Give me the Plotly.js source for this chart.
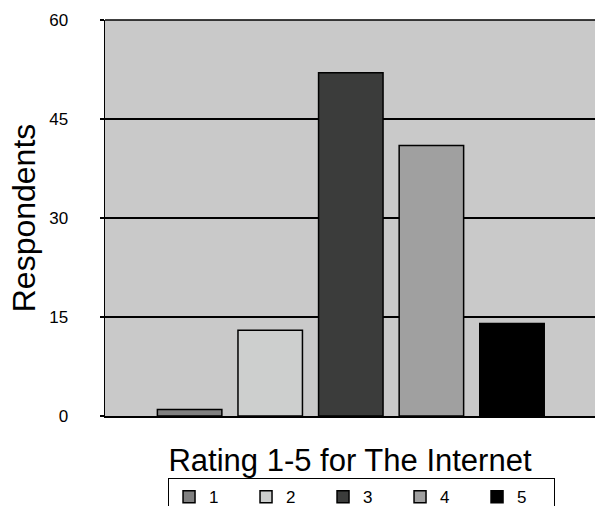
<!DOCTYPE html>
<html>
<head>
<meta charset="utf-8">
<script src="https://cdn.plot.ly/plotly-3.0.1.min.js"></script>
<style>html,body{margin:0;padding:0;background:#fff;}</style>
</head>
<body>
<div id="chart" style="width:595px;height:506px;"></div>
<script>
const categories = ["1", "2", "3", "4", "5"];
const positions = [1, 2, 3, 4, 5];
const respondents = [1, 13, 52, 41, 14];
const barColors = ["#808080", "#cdcfce", "#3b3c3b", "#a0a0a0", "#000000"];
const yTicks = [0, 15, 30, 45, 60];

const traces = categories.map((c, i) => ({
  type: "bar",
  name: c,
  x: [positions[i]],
  y: [respondents[i]],
  width: 0.8,
  marker: { color: barColors[i], line: { color: "#000", width: 1.5 } },
  hoverinfo: "y"
}));

const layout = {
  width: 595,
  height: 506,
  margin: { l: 105, r: 0, t: 20, b: 90, autoexpand: false },
  paper_bgcolor: "#ffffff",
  plot_bgcolor: "#c9c9c9",
  font: { family: "Liberation Sans, Arial, sans-serif", color: "#000" },
  barmode: "overlay",
  showlegend: true,
  xaxis: {
    range: [-0.05, 6.03],
    showticklabels: false,
    showgrid: false,
    zeroline: false,
    ticks: "",
    showline: true,
    linecolor: "#000",
    linewidth: 1.5,
    mirror: false,
    fixedrange: true,
    automargin: false,
    title: { text: "Rating 1-5 for The Internet", font: { size: 31, color: "#000" }, standoff: 34 }
  },
  yaxis: {
    range: [0, 60],
    tickvals: yTicks,
    ticktext: yTicks.map(String),
    ticks: "outside",
    ticklen: 4,
    tickcolor: "#000",
    tickwidth: 1.5,
    ticklabelstandoff: 28,
    tickfont: { size: 17, color: "#000" },
    showgrid: true,
    gridcolor: "#000",
    gridwidth: 1.2,
    zeroline: false,
    showline: true,
    linecolor: "#000",
    linewidth: 1.5,
    fixedrange: true,
    automargin: false,
    title: { text: "Respondents", font: { size: 32, color: "#000" }, standoff: 4 }
  },
  legend: {
    orientation: "h",
    xref: "container",
    yref: "container",
    x: 0.2824,
    xanchor: "left",
    y: 0.055,
    yanchor: "top",
    bgcolor: "#ffffff",
    bordercolor: "#000",
    borderwidth: 1,
    font: { size: 17, color: "#000" },
    entrywidth: 32,
    entrywidthmode: "pixels",
    traceorder: "normal"
  },
  shapes: [
    { type: "line", xref: "paper", yref: "paper", x0: 0, x1: 1, y0: 1, y1: 1, line: { color: "#000", width: 1.5 } }
  ]
};

Plotly.newPlot("chart", traces, layout, { displayModeBar: false, staticPlot: true });
</script>
</body>
</html>
